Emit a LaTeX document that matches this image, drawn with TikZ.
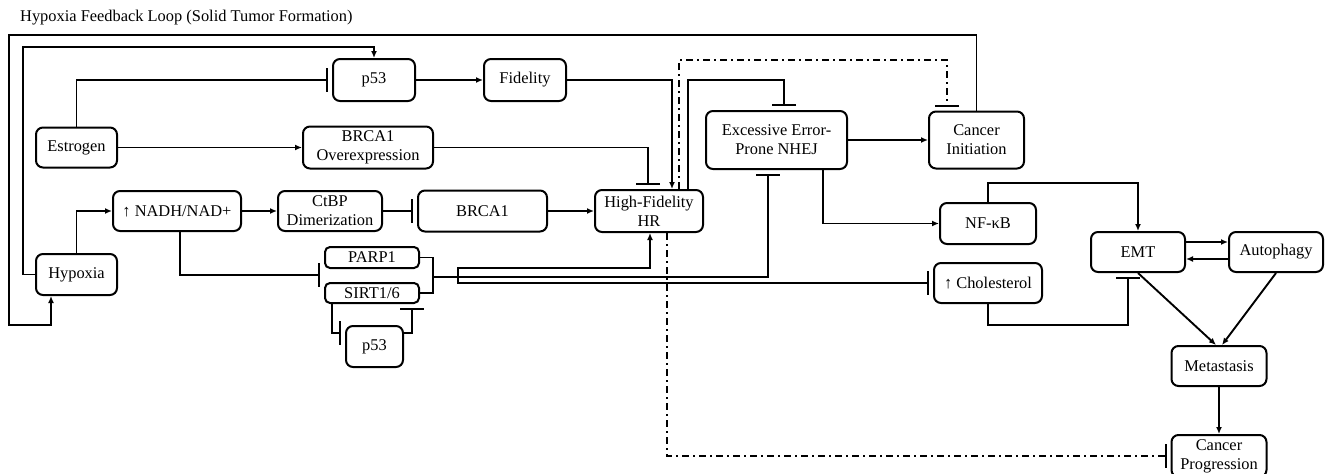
\documentclass[tikz,border=0pt]{standalone}
\usepackage{fontspec}
\setmainfont{Liberation Serif}
\usetikzlibrary{arrows.meta,calc}
\begin{document}
\begin{tikzpicture}[x=1pt,y=-1pt,
  font=\fontsize{16.4}{19}\selectfont,
  box/.style={draw, line width=2pt, rounded corners=7pt, inner sep=0pt, align=center},
  conn/.style={line width=1.9pt},
  arr/.style={conn, -{Latex[length=7pt,width=6pt]}},
  inh/.style={conn, -{Bar[width=24pt]}, shorten >=4pt},
  dd/.style={line width=1.9pt, dash pattern=on 7pt off 4pt on 2pt off 4pt}]
\useasboundingbox (0,0) rectangle (1326,474);

% title
\node[anchor=west, inner sep=0pt] (title) at (20,18) {Hypoxia Feedback Loop (Solid Tumor Formation)};

% nodes
\node[box, minimum width=82pt, minimum height=42pt] (p53a) at (374,80) {p53};
\node[box, minimum width=82pt, minimum height=42pt] (fid) at (525,80) {Fidelity};
\node[box, minimum width=81pt, minimum height=40pt] (estr) at (76.5,147.5) {Estrogen};
\node[box, minimum width=130pt, minimum height=42pt] (brov) at (368,147.5) {BRCA1\\Overexpression};
\node[box, minimum width=128pt, minimum height=40pt] (nadh) at (177,211) {↑ NADH/NAD+};
\node[box, minimum width=104pt, minimum height=40pt] (ctbp) at (330,211) {CtBP\\Dimerization};
\node[box, minimum width=129pt, minimum height=41pt] (brca) at (482.5,211) {BRCA1};
\node[box, minimum width=108pt, minimum height=42pt] (hr) at (649,211) {High-Fidelity\\HR};
\node[box, minimum width=81pt, minimum height=41pt] (hyp) at (76.5,274.5) {Hypoxia};
\node[box, rounded corners=5pt, minimum width=94pt, minimum height=21pt] (parp) at (372,257.5) {PARP1};
\node[box, rounded corners=5pt, minimum width=94pt, minimum height=20pt] (sirt) at (372,293) {SIRT1/6};
\node[box, minimum width=57pt, minimum height=41pt] (p53b) at (374.5,346.5) {p53};
\node[box, minimum width=141pt, minimum height=58pt] (nhej) at (776.5,140) {Excessive Error-\\Prone NHEJ};
\node[box, minimum width=95pt, minimum height=57pt] (ci) at (976.5,140) {Cancer\\Initiation};
\node[box, minimum width=96pt, minimum height=41pt] (nfkb) at (988,223.5) {NF-κB};
\node[box, minimum width=108pt, minimum height=40pt] (chol) at (988,283) {↑ Cholesterol};
\node[box, minimum width=94pt, minimum height=40pt] (emt) at (1138,252) {EMT};
\node[box, minimum width=94pt, minimum height=40pt] (auto) at (1276,252) {Autophagy};
\node[box, minimum width=95pt, minimum height=40pt] (met) at (1219,366) {Metastasis};
\node[box, minimum width=95pt, minimum height=42pt] (cp) at (1219,456) {Cancer\\Progression};

% helper points
\coordinate (br) at (433,277);
\coordinate (jn) at (458,277);
\coordinate (nfkbUp) at (988,183);
\coordinate (cholDn) at (988,325);

% hypoxia feedback loop
\draw[arr] (ci.north) |- (9,35) -- (9,325) -| ([xshift=-25.5pt]hyp.south);
\draw[arr] (hyp.west) -| (23,47) -| (p53a.north);

% estrogen branch
\draw[inh] (estr.north) |- (p53a.west);
\draw[arr] (estr.east) -- (brov.west);
\draw[arr] (p53a.east) -- (fid.west);
\draw[arr] (fid.east) -| ([xshift=23pt]hr.north);
\draw[inh] (brov.east) -| ([xshift=-1pt]hr.north);

% NADH branch
\draw[arr] (hyp.north) |- (nadh.west);
\draw[arr] (nadh.east) -- (ctbp.west);
\draw[inh] (ctbp.east) -- (brca.west);
\draw[arr] (brca.east) -- (hr.west);
\draw[inh] ([xshift=3pt]nadh.south) |- ($(parp.west)!0.5!(sirt.west)$);

% PARP1 / SIRT1/6 group
\draw[conn] (parp.east) -| (br);
\draw[conn] (sirt.east) -| (br);
\draw[conn] (br) -- (jn);
\draw[arr] (jn) -- (458,268) -| ([xshift=1pt]hr.south);
\draw[inh] (jn) -| ([xshift=-8.5pt]nhej.south);
\draw[inh] (jn) |- (chol.west);
\draw[inh] ([xshift=-40pt]sirt.south) |- ([yshift=13.5pt]p53b.west);
\draw[inh] ([yshift=13.5pt]p53b.east) -| ([xshift=40pt]sirt.south);

% HR outputs
\draw[inh] ([xshift=39pt]hr.north) |- (784,80) -- ([xshift=7.5pt]nhej.north);
\draw[dd, -{Bar[width=24pt]}, shorten >=4pt] ([xshift=30pt]hr.north) |- (947,60) -- ([xshift=-29.5pt]ci.north);
\draw[dd, -{Bar[width=24pt]}, shorten >=4pt] ([xshift=18pt]hr.south) |- (cp.west);

% NHEJ outputs
\draw[arr] (nhej.east) -- (ci.west);
\draw[arr] ([xshift=46.5pt]nhej.south) |- (nfkb.west);
\draw[arr] (nfkb.north) -- (nfkbUp) -| (emt.north);

% EMT module
\draw[arr] ([yshift=10pt]emt.east) -- ([yshift=10pt]auto.west);
\draw[arr] ([yshift=-7pt]auto.west) -- ([yshift=-7pt]emt.east);
\draw[inh] (chol.south) -- (cholDn) -| ([xshift=-10pt]emt.south);
\draw[arr] (emt.south) -- ([xshift=-3pt]met.north);
\draw[arr] (auto.south) -- ([xshift=3pt]met.north);
\draw[arr] (met.south) -- (cp.north);
\end{tikzpicture}
\end{document}
